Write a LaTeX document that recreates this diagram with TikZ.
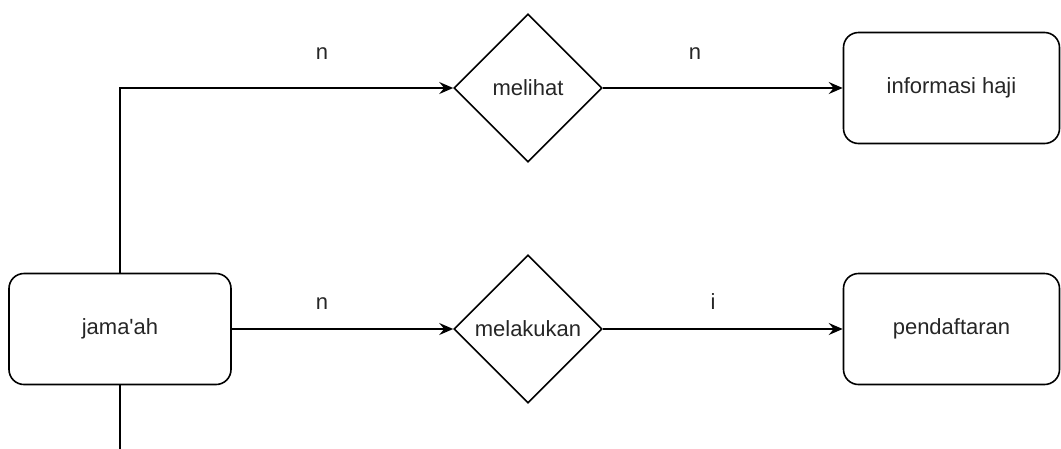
\documentclass[tikz,border=0pt]{standalone}
\usepackage{fontspec}
\setmainfont{Liberation Sans}[Ligatures=TeXOff]
\usetikzlibrary{shapes.geometric,arrows.meta}
\begin{document}
\begin{tikzpicture}[x=1pt,y=-1pt,
  entity/.style={draw, line width=1.6pt, rounded corners=15pt, minimum width=222pt, minimum height=111pt, inner sep=0pt, font=\fontsize{22}{25}\selectfont, text=black!85},
  relation/.style={draw, line width=1.6pt, diamond, aspect=1, minimum width=148pt, minimum height=148pt, inner sep=0pt, font=\fontsize{22}{25}\selectfont, text=black!85},
  conn/.style={line width=1.6pt, -{Stealth[length=14pt,width=12pt,inset=5pt]}},
  plain/.style={line width=1.6pt},
  lbl/.style={anchor=base, font=\fontsize{22}{25}\selectfont, text=black!85, inner sep=0pt}]
\useasboundingbox (0,0) rectangle (1061,448);
\node[entity] (jamaah) at (120,329) {jama'ah};
\node[relation] (melihat) at (528,88) {melihat};
\node[relation] (melakukan) at (528,329) {melakukan};
\node[entity, minimum width=216pt] (info) at (951.5,88) {informasi haji};
\node[entity, minimum width=216pt] (daftar) at (951.5,329) {pendaftaran};
\coordinate (bottom) at (120,449);
\draw[conn] (jamaah.north) |- (melihat.west);
\draw[conn] (melihat.east) -- (info.west);
\draw[conn] (jamaah.east) -- (melakukan.west);
\draw[conn] (melakukan.east) -- (daftar.west);
\draw[plain] (jamaah.south) -- (bottom);
\node[lbl] (l1) at (322,59) {n};
\node[lbl] (l2) at (695,59) {n};
\node[lbl] (l3) at (322,309) {n};
\node[lbl] (l4) at (713,309) {i};
\end{tikzpicture}
\end{document}
